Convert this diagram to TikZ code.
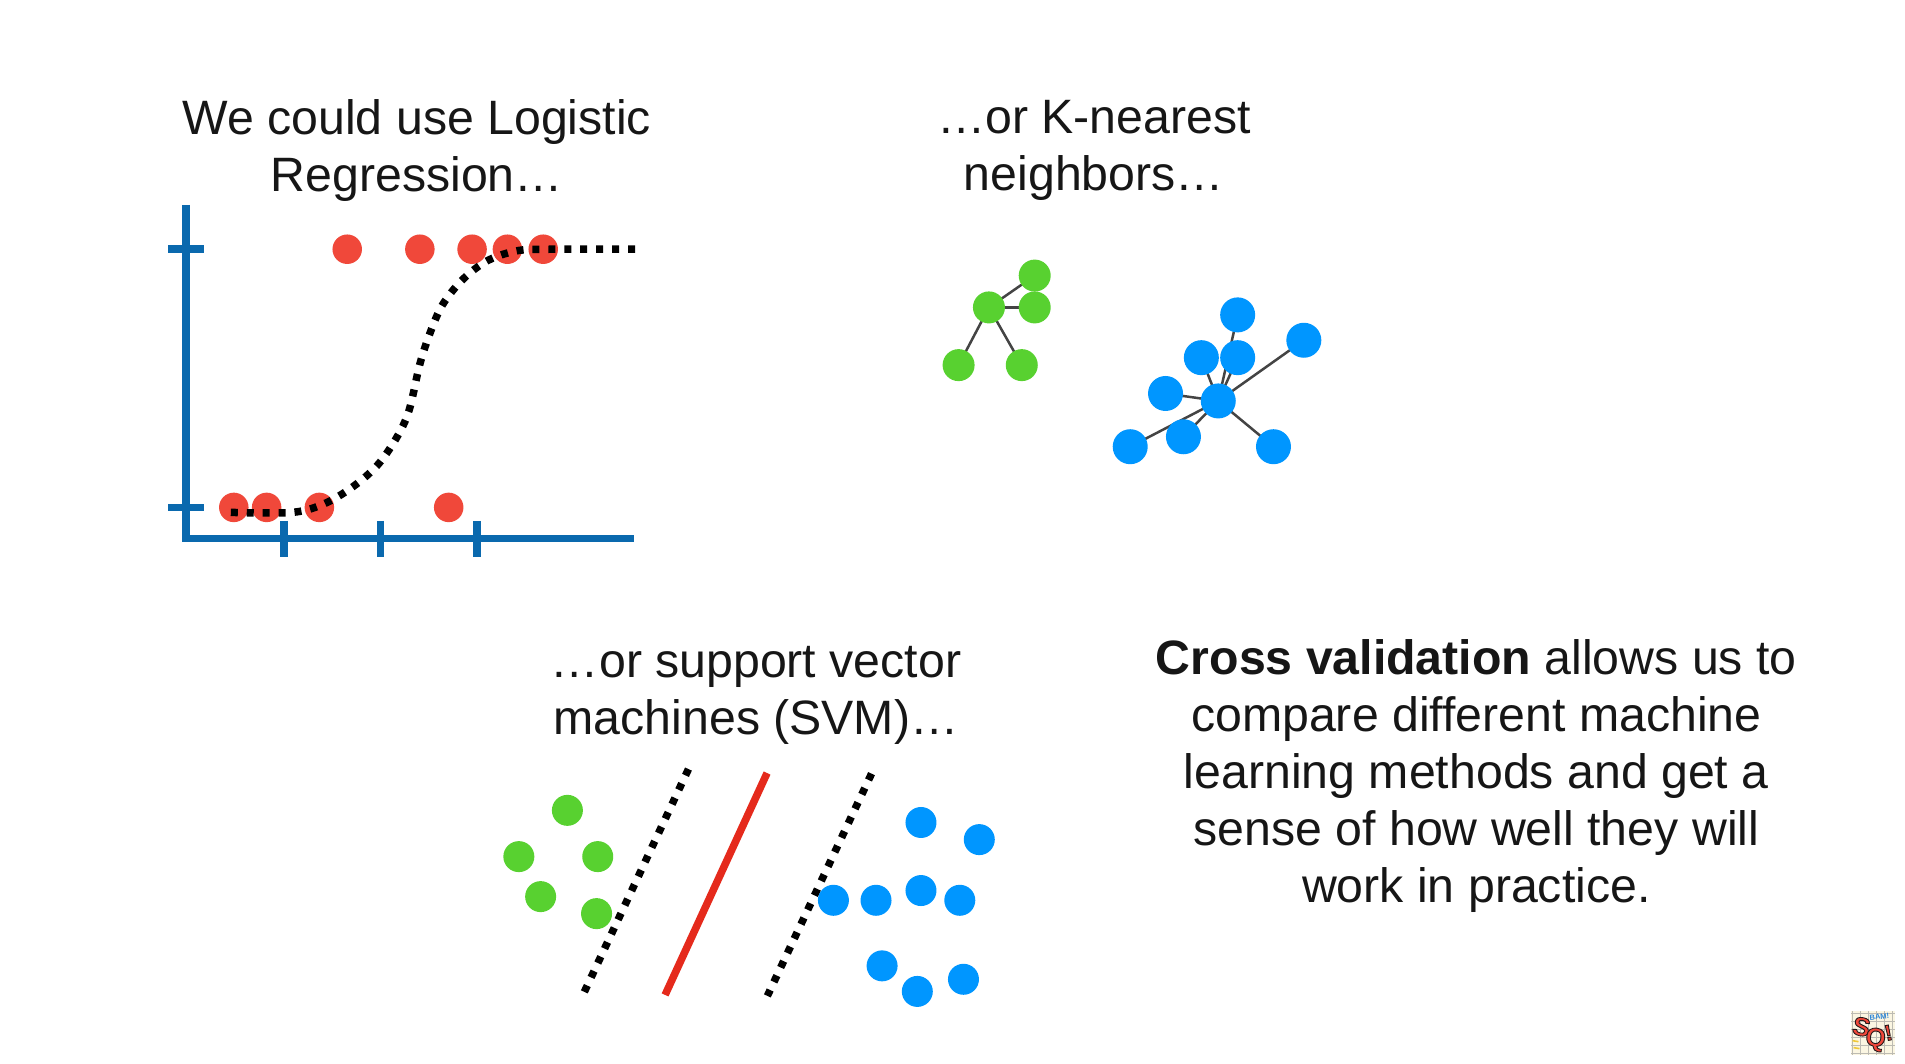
\documentclass[tikz,border=0pt]{standalone}
\usepackage{fontspec}
\setmainfont{Liberation Sans}
\usetikzlibrary{backgrounds}
\definecolor{axisblue}{HTML}{0A69AE}
\definecolor{dotred}{HTML}{F0483A}
\definecolor{lineRed}{HTML}{E52A1C}
\definecolor{ptgreen}{HTML}{58D130}
\definecolor{ptblue}{HTML}{0096FF}
\definecolor{txt}{HTML}{161616}
\definecolor{edgegray}{HTML}{444444}
\definecolor{logobg}{HTML}{FBF6E2}
\definecolor{logogrid}{HTML}{BDBBB2}
\definecolor{logoblue}{HTML}{2C86D8}
\definecolor{logoyellow}{HTML}{F0C93A}
\newcommand{\outlined}[1]{\special{pdf:code 2 Tr 0.9 w 0.15 0.1 0.1 RG}#1\special{pdf:code 0 Tr}}
\tikzset{
  heading/.style={font=\fontsize{48.25}{57}\selectfont, text=txt, align=center, inner sep=0pt},
  pt/.style={circle, inner sep=0pt, minimum size=#1, draw=none},
  redpt/.style={pt=29.5pt, fill=dotred},
  greenpt/.style={pt=32pt, fill=ptgreen},
  bluept/.style={pt=35pt, fill=ptblue},
  svmgreen/.style={pt=31pt, fill=ptgreen},
  svmblue/.style={pt=31pt, fill=ptblue},
  axisline/.style={draw=axisblue, line width=7.5pt},
  dotted curve/.style={draw=black, line width=7.5pt, dash pattern=on 7pt off 8.93pt},
  nnedge/.style={draw=edgegray, line width=2.5pt},
  logoletter/.style={inner sep=0pt, text=dotred},
}
\begin{document}
\begin{tikzpicture}[x=0.9949pt,y=-0.9949pt]
\useasboundingbox (0,0) rectangle (1914.76,1069.45);
\begin{scope}[on background layer]
  \fill[white] (0,0) rectangle (1914.76,1069.45);
\end{scope}

% headings
\node[heading] (t1) at (419,151) {We could use Logistic\\Regression…};
\node[heading] (t2) at (1099.6,151) {…or K-nearest\\neighbors…};
\node[heading] (t3) at (760,698.6) {…or support vector\\machines (SVM)…};
\node[heading] (t4) at (1483.9,780) {\textbf{Cross validation} allows us to\\compare different machine\\learning methods and get a\\sense of how well they will\\work in practice.};

% logistic plot: axes
\coordinate (ytop) at (187,206);
\coordinate (origin) at (187,541.5);
\coordinate (xend) at (637,541.5);
\draw[axisline, line join=miter] (ytop) -- (origin) -- (xend);
\foreach \n/\y in {ya/250.5, yb/510}{
  \coordinate (\n L) at (169,\y); \coordinate (\n R) at (205,\y);
  \draw[axisline] (\n L) -- (\n R);
}
\foreach \n/\x in {xa/285.5, xb/382.5, xc/479.5}{
  \coordinate (\n T) at (\x,523.5); \coordinate (\n B) at (\x,559.5);
  \draw[axisline] (\n T) -- (\n B);
}
% logistic plot: points
\foreach \n/\x in {ra/349, rb/422, rc/474.5, rd/510, re/546}{
  \node[redpt] (\n) at (\x,250.5) {};
}
\foreach \n/\x in {rf/235, rg/268, rh/321, ri/451}{
  \node[redpt] (\n) at (\x,510) {};
}
% logistic curve
\draw[dotted curve] plot[smooth, tension=0.55] coordinates {
 (232,515) (294,515) (326.6,506) (355,489) (379,468) (398,441) (411,413)
 (422,366) (432.5,334) (445,306) (465,281) (490,262) (520,252) (554.6,250.5) (640,250.5)};

% KNN edges and points
\node[greenpt] (g0) at (994,309) {};
\node[greenpt] (g1) at (1040,277) {};
\node[greenpt] (g2) at (1040,309) {};
\node[greenpt] (g3) at (963.5,367) {};
\node[greenpt] (g4) at (1027,367) {};
\node[bluept] (b0) at (1224.5,403) {};
\node[bluept] (b1) at (1244,316.5) {};
\node[bluept] (b2) at (1310.5,342) {};
\node[bluept] (b3) at (1207.5,359.5) {};
\node[bluept] (b4) at (1244,359.5) {};
\node[bluept] (b5) at (1171.5,395.5) {};
\node[bluept] (b6) at (1189.5,439) {};
\node[bluept] (b7) at (1136,449) {};
\node[bluept] (b8) at (1280,449) {};
\begin{scope}[on background layer]
  \foreach \k in {1,2,3,4}{\draw[nnedge] (g0.center) -- (g\k.center);}
  \foreach \k in {1,...,8}{\draw[nnedge] (b0.center) -- (b\k.center);}
\end{scope}

% SVM
\coordinate (la) at (692,773);  \coordinate (lb) at (587.3,997);
\coordinate (ra) at (876,777.6); \coordinate (rb) at (771.3,1001);
\coordinate (ma) at (771,777);  \coordinate (mb) at (668.5,1000);
\draw[dotted curve] (la) -- (lb);
\draw[dotted curve] (ra) -- (rb);
\draw[draw=lineRed, line width=7.5pt] (ma) -- (mb);
\foreach \n/\x/\y in {sg1/570.3/814.5, sg2/521.5/861, sg3/600.8/861, sg4/543.4/901.2, sg5/599.6/918.3}{
  \node[svmgreen] (\n) at (\x,\y) {};
}
\foreach \n/\x/\y in {sb1/925.7/826.7, sb2/984.3/843.9, sb3/837.7/904.9, sb4/880.5/904.9, sb5/925.7/895.1,
  sb6/964.7/904.9, sb7/886.6/970.8, sb8/922/996.5, sb9/968.4/984.3}{
  \node[svmblue] (\n) at (\x,\y) {};
}

% logo
\fill[logobg] (1860.5,1016.2) rectangle (1904.7,1060.4);
\foreach \d in {0,8,...,40}{
  \draw[logogrid, line width=0.8pt] (1862+\d,1016.2) -- (1862+\d,1060.4);
  \draw[logogrid, line width=0.8pt] (1860.5,1019+\d) -- (1904.7,1019+\d);
}
\draw[logoyellow, line width=1.6pt] (1862,1046) -- (1868,1047);
\draw[logoyellow, line width=1.6pt] (1863,1053) -- (1869,1054);
\node[inner sep=0pt, text=logoblue, font=\fontsize{7.5}{7.5}\selectfont\bfseries, rotate=6] (logobam) at (1889,1022) {BAM!};
\node[logoletter, font=\fontsize{26}{26}\selectfont\bfseries, rotate=-12] (logoS) at (1871,1032) {\outlined{S}};
\node[logoletter, font=\fontsize{26}{26}\selectfont\bfseries, rotate=-8] (logoQ) at (1885,1045) {\outlined{Q}};
\node[logoletter, font=\fontsize{22}{22}\selectfont\bfseries, rotate=12] (logoX) at (1898,1038) {\outlined{!}};
\end{tikzpicture}
\end{document}
